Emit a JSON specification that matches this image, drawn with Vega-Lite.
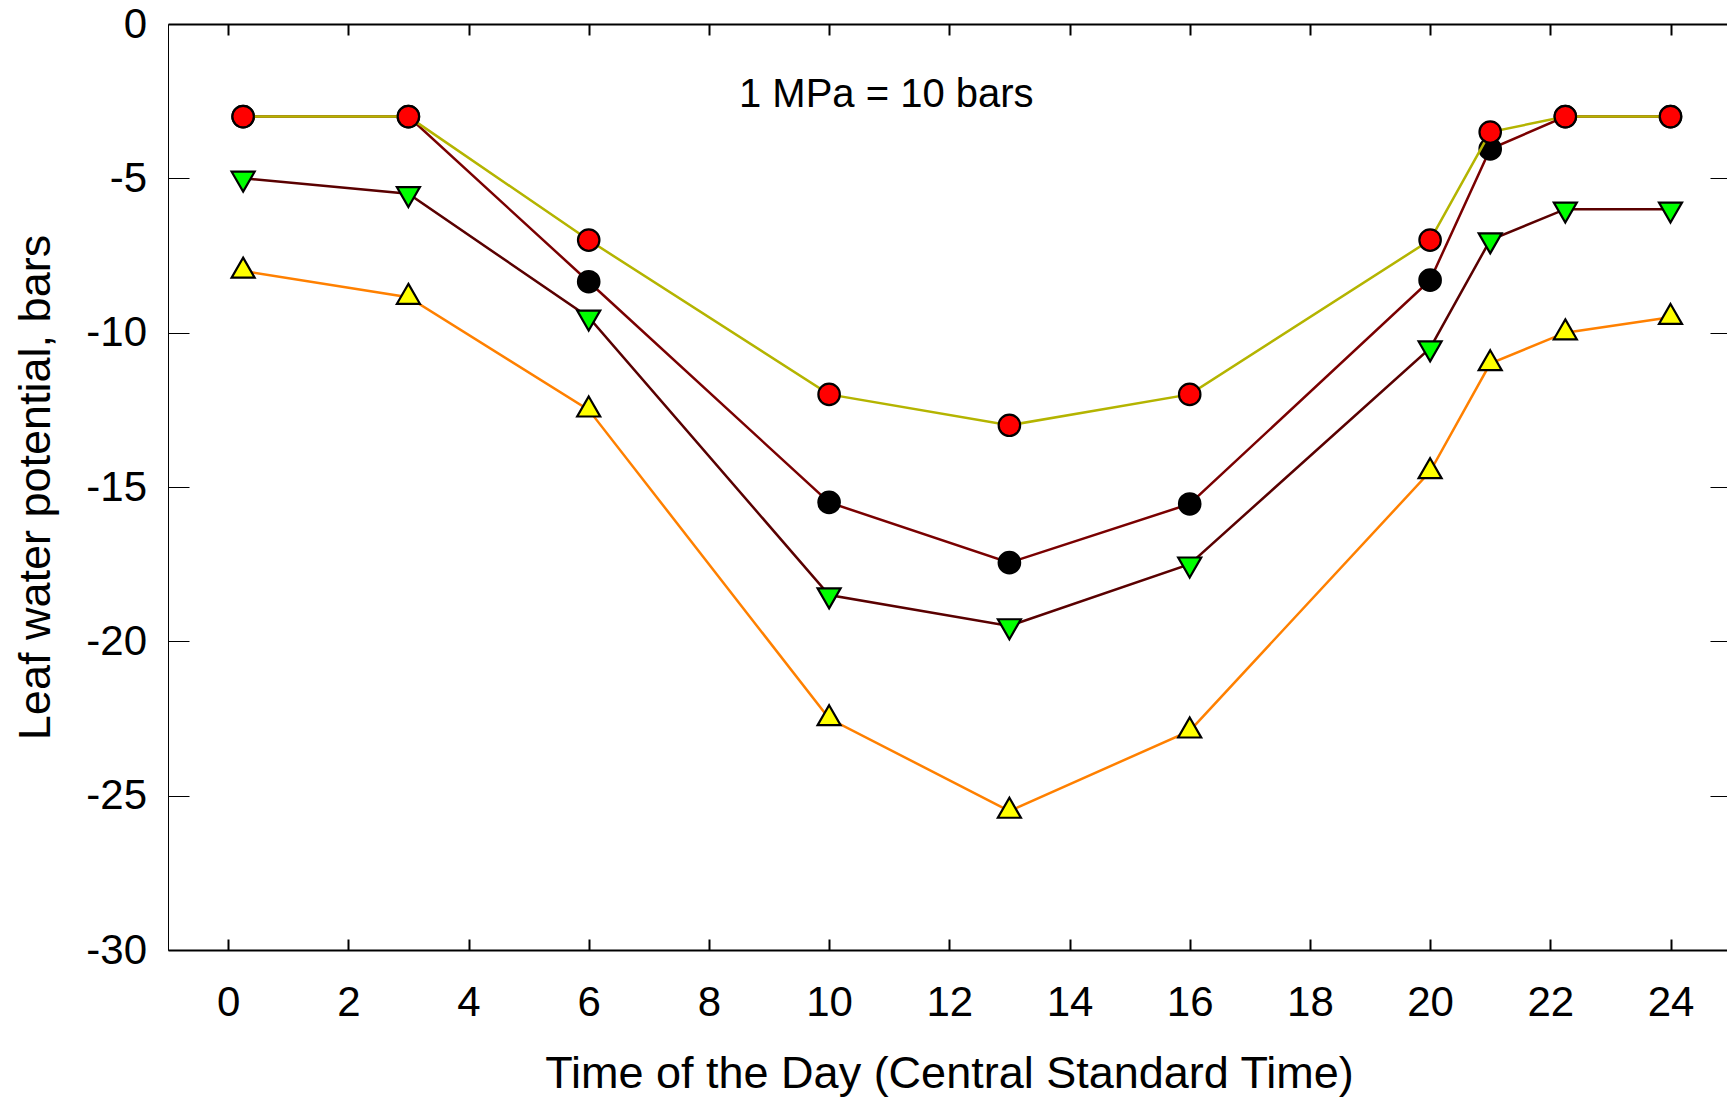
{
  "$schema": "https://vega.github.io/schema/vega-lite/v6.json",
  "width": 1559,
  "height": 926,
  "autosize": {"type": "none"},
  "padding": {"left": 168, "top": 24, "right": 0, "bottom": 148},
  "background": "white",
  "config": {"view": {"stroke": null}, "font": "Liberation Sans"},
  "resolve": {"axis": {"x": "independent", "y": "independent"}},
  "data": {
    "values": [
      {"series": "red", "hour": 0.25, "psi": -3},
      {"series": "red", "hour": 3, "psi": -3},
      {"series": "red", "hour": 6, "psi": -7},
      {"series": "red", "hour": 10, "psi": -12},
      {"series": "red", "hour": 13, "psi": -13},
      {"series": "red", "hour": 16, "psi": -12},
      {"series": "red", "hour": 20, "psi": -7},
      {"series": "red", "hour": 21, "psi": -3.5},
      {"series": "red", "hour": 22.25, "psi": -3},
      {"series": "red", "hour": 24, "psi": -3},
      {"series": "black", "hour": 0.25, "psi": -3},
      {"series": "black", "hour": 3, "psi": -3},
      {"series": "black", "hour": 6, "psi": -8.35},
      {"series": "black", "hour": 10, "psi": -15.5},
      {"series": "black", "hour": 13, "psi": -17.45},
      {"series": "black", "hour": 16, "psi": -15.55},
      {"series": "black", "hour": 20, "psi": -8.3},
      {"series": "black", "hour": 21, "psi": -4.05},
      {"series": "black", "hour": 22.25, "psi": -3},
      {"series": "black", "hour": 24, "psi": -3},
      {"series": "green", "hour": 0.25, "psi": -5},
      {"series": "green", "hour": 3, "psi": -5.5},
      {"series": "green", "hour": 6, "psi": -9.5},
      {"series": "green", "hour": 10, "psi": -18.5},
      {"series": "green", "hour": 13, "psi": -19.5},
      {"series": "green", "hour": 16, "psi": -17.5},
      {"series": "green", "hour": 20, "psi": -10.5},
      {"series": "green", "hour": 21, "psi": -7},
      {"series": "green", "hour": 22.25, "psi": -6},
      {"series": "green", "hour": 24, "psi": -6},
      {"series": "yellow", "hour": 0.25, "psi": -8},
      {"series": "yellow", "hour": 3, "psi": -8.85},
      {"series": "yellow", "hour": 6, "psi": -12.5},
      {"series": "yellow", "hour": 10, "psi": -22.5},
      {"series": "yellow", "hour": 13, "psi": -25.5},
      {"series": "yellow", "hour": 16, "psi": -22.9},
      {"series": "yellow", "hour": 20, "psi": -14.5},
      {"series": "yellow", "hour": 21, "psi": -11},
      {"series": "yellow", "hour": 22.25, "psi": -10},
      {"series": "yellow", "hour": 24, "psi": -9.5}
    ]
  },
  "encoding": {
    "x": {
      "field": "hour", "type": "quantitative",
      "scale": {"domain": [-1, 24.94], "nice": false, "zero": false},
      "axis": null
    },
    "y": {
      "field": "psi", "type": "quantitative",
      "scale": {"domain": [-30, 0], "nice": false, "zero": false},
      "axis": null
    }
  },
  "layer": [
    {
      "mark": {"type": "point", "opacity": 0},
      "encoding": {
        "x": {
          "field": "hour", "type": "quantitative",
          "scale": {"domain": [-1, 24.94], "nice": false, "zero": false},
          "axis": {
            "orient": "bottom",
            "values": [0, 2, 4, 6, 8, 10, 12, 14, 16, 18, 20, 22, 24],
            "grid": false,
            "tickSize": -11, "tickWidth": 2, "tickColor": "black",
            "domainColor": "black", "domainWidth": 2,
            "labelFont": "Liberation Sans", "labelFontSize": 42, "labelColor": "black",
            "labelPadding": 76.5, "labelBaseline": "alphabetic",
            "labelFlush": false, "labelOverlap": false,
            "title": "Time of the Day (Central Standard Time)",
            "titleFont": "Liberation Sans", "titleFontSize": 45, "titleFontWeight": "normal", "titleColor": "black",
            "titleX": 781, "titleY": 137, "titleAlign": "center", "titleBaseline": "alphabetic"
          }
        },
        "y": {
          "field": "psi", "type": "quantitative",
          "scale": {"domain": [-30, 0], "nice": false, "zero": false},
          "axis": {
            "orient": "left",
            "values": [-30, -25, -20, -15, -10, -5, 0],
            "labelExpr": "'' + datum.value",
            "grid": false,
            "tickSize": -21, "tickWidth": 1, "tickColor": "black",
            "domainColor": "black", "domainWidth": 1,
            "labelFont": "Liberation Sans", "labelFontSize": 42, "labelColor": "black",
            "labelPadding": 42.5, "labelFlush": false, "labelOverlap": false,
            "title": "Leaf water potential, bars",
            "titleFont": "Liberation Sans", "titleFontSize": 45, "titleFontWeight": "normal", "titleColor": "black",
            "titleX": -119, "titleY": 463, "titleAlign": "center", "titleBaseline": "alphabetic", "titleAngle": 270
          }
        }
      }
    },
    {
      "mark": {"type": "point", "opacity": 0},
      "encoding": {
        "x": {
          "field": "hour", "type": "quantitative",
          "scale": {"domain": [-1, 24.94], "nice": false, "zero": false},
          "axis": {
            "orient": "top",
            "values": [0, 2, 4, 6, 8, 10, 12, 14, 16, 18, 20, 22, 24],
            "grid": false, "labels": false, "title": null,
            "tickSize": -11, "tickWidth": 2, "tickColor": "black",
            "domainColor": "black", "domainWidth": 2
          }
        },
        "y": {
          "field": "psi", "type": "quantitative",
          "scale": {"domain": [-30, 0], "nice": false, "zero": false},
          "axis": {
            "orient": "right",
            "values": [-30, -25, -20, -15, -10, -5, 0],
            "grid": false, "labels": false, "title": null, "domain": false,
            "tickSize": -17, "tickWidth": 1, "tickColor": "black"
          }
        }
      }
    },
    {
      "transform": [{"filter": "datum.series === 'yellow'"}],
      "layer": [
        {"mark": {"type": "line", "color": "#ff8000", "strokeWidth": 2.5}, "encoding": {}},
        {"mark": {"type": "point", "shape": "M0,-1.155L1,0.577L-1,0.577Z", "filled": true, "fill": "#ffff00", "stroke": "black", "strokeWidth": 2.2, "size": 530, "opacity": 1}}
      ]
    },
    {
      "transform": [{"filter": "datum.series === 'green'"}],
      "layer": [
        {"mark": {"type": "line", "color": "#5a0000", "strokeWidth": 2.5}, "encoding": {}},
        {"mark": {"type": "point", "shape": "M0,1.155L1,-0.577L-1,-0.577Z", "filled": true, "fill": "#00ff00", "stroke": "black", "strokeWidth": 2.2, "size": 530, "opacity": 1}}
      ]
    },
    {
      "transform": [{"filter": "datum.series === 'black'"}],
      "layer": [
        {"mark": {"type": "line", "color": "#7a0000", "strokeWidth": 2.5}, "encoding": {}},
        {"mark": {"type": "point", "shape": "circle", "filled": true, "fill": "black", "stroke": "black", "strokeWidth": 2.2, "size": 460, "opacity": 1}}
      ]
    },
    {
      "transform": [{"filter": "datum.series === 'red'"}],
      "layer": [
        {"mark": {"type": "line", "color": "#b4b400", "strokeWidth": 2.5}, "encoding": {}},
        {"mark": {"type": "point", "shape": "circle", "filled": true, "fill": "#ff0000", "stroke": "black", "strokeWidth": 2.2, "size": 460, "opacity": 1}}
      ]
    },
    {
      "data": {"values": [{"hour": 8.5, "psi": -2.68, "label": "1 MPa = 10 bars"}]},
      "mark": {"type": "text", "align": "left", "baseline": "alphabetic", "fontSize": 40, "font": "Liberation Sans", "color": "black"},
      "encoding": {"text": {"field": "label"}}
    }
  ]
}
